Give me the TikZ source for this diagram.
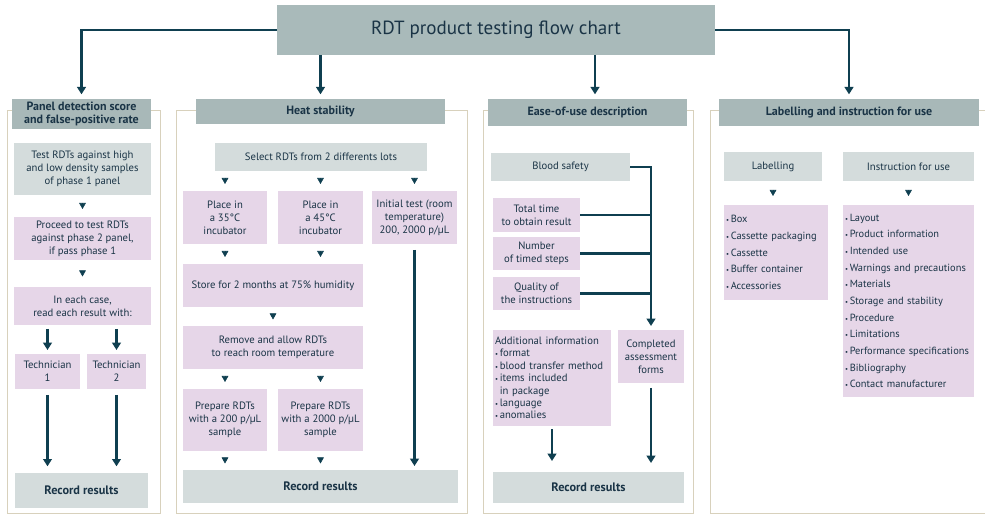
\documentclass[tikz,border=0pt]{standalone}
\usepackage{fontspec}
\setmainfont{PT Sans}
\usetikzlibrary{arrows.meta}
\definecolor{titlefill}{HTML}{A9BABA}
\definecolor{hfill}{HTML}{A8B8B8}
\definecolor{lgray}{HTML}{D4DCDC}
\definecolor{pinkf}{HTML}{E6D6E8}
\definecolor{arrowc}{HTML}{0F3F50}
\definecolor{framec}{HTML}{D8D1BC}
\definecolor{txt}{HTML}{1A3446}
\newcommand\mybox[7]{\node[#1, minimum width={(#4-#2)*0.75pt}, minimum height={(#5-#3)*0.75pt}] (#6) at ({(#2+#4)/2},{(#3+#5)/2}) {#7};}
\newcommand\mylist[7]{\node[#1, text width={(#4-#2-4)*0.75pt}, inner xsep=1.5pt, minimum height={(#5-#3)*0.75pt}] (#6) at ({(#2+#4)/2},{(#3+#5)/2}) {#7};}
\newcommand\bl{{\fontsize{5}{5}\selectfont\textbullet}\,}
\begin{document}
\begin{tikzpicture}[x=0.75pt,y=-0.75pt,
  base/.style={draw=none, inner sep=0pt, outer sep=0pt, text=txt, align=center, font=\fontsize{8}{9.75}\selectfont},
  tbox/.style={base, fill=titlefill, font=\fontsize{14.3}{17}\selectfont},
  hbox/.style={base, fill=hfill, font=\bfseries\fontsize{9}{9.75}\selectfont},
  gbox/.style={base, fill=lgray},
  pbox/.style={base, fill=pinkf},
  rbox/.style={base, fill=lgray, font=\bfseries\fontsize{9.2}{11}\selectfont},
  lbox/.style={base, fill=pinkf, align=left, font=\fontsize{7.8}{12.5}\selectfont},
  abox/.style={base, fill=pinkf, align=left, font=\fontsize{8}{9.3}\selectfont},
  frame/.style={draw=framec, line width=0.75pt, fill=white},
  conn/.style={draw=arrowc, line width=2.1pt},
  bigarr/.style={conn, -{Triangle[width=6.5pt,length=5.5pt]}},
  tiparr/.style={draw=arrowc, line width=0.4pt, -{Triangle[width=5pt,length=4.5pt]}, shorten <=#1, shorten >=#1}
]
\useasboundingbox (0,0) rectangle (985,516);
\fill[white] (0,0) rectangle (985,516);
% frames
\draw[frame] (7,111) rectangle (160,513);
\draw[frame] (176,111) rectangle (467,513);
\draw[frame] (483,111) rectangle (693,513);
\draw[frame] (710,111) rectangle (990,513);
% title
\mybox{tbox}{277}{5}{715}{55}{title}{RDT product testing flow chart}
% headers
\mybox{hbox}{12}{99}{151}{129}{ph}{Panel detection score\\and false-positive rate}
\mybox{hbox}{196}{99}{445}{124}{hh}{Heat stability}
\mybox{hbox}{488}{99}{687}{126}{eh}{Ease-of-use description}
\mybox{hbox}{719}{99}{979}{126}{lh}{Labelling and instruction for use}
\coordinate (ea) at (595,99);
% title connectors
\draw[bigarr, shorten >=3.5pt] (title.west) -| (ph.north);
\draw[bigarr, shorten >=3.5pt] (title.south -| hh.north) -- (hh.north);
\draw[bigarr, shorten >=3.5pt] (title.south -| ea) -- (ea);
\draw[bigarr, shorten >=3.5pt] (title.east) -| (lh.north);
% panel column
\mybox{gbox}{14}{143}{151}{195}{p1}{Test RDTs against high\\and low density samples\\of phase 1 panel}
\mybox{pbox}{14}{217}{151}{260}{p2}{Proceed to test RDTs\\against phase 2 panel,\\if pass phase 1}
\mybox{pbox}{14}{287}{151}{325}{p3}{In each case,\\read each result with:}
\mybox{pbox}{15}{354}{80}{389}{t1}{Technician\\1}
\mybox{pbox}{87}{354}{146}{389}{t2}{Technician\\2}
\mybox{rbox}{15}{473}{148}{508}{pr}{Record results}
\draw[tiparr=6pt] (p1) -- (p2);
\draw[tiparr=7.9pt] (p2) -- (p3);
\draw[bigarr, shorten <=3pt, shorten >=3pt] (p3.south -| t1) -- (t1.north);
\draw[bigarr, shorten <=3pt, shorten >=3pt] (p3.south -| t2) -- (t2.north);
\draw[bigarr, shorten <=4.5pt, shorten >=5pt] (t1.south) -- (pr.north -| t1);
\draw[bigarr, shorten <=4.5pt, shorten >=5pt] (t2.south) -- (pr.north -| t2);
% heat column
\mybox{gbox}{215}{143}{427}{171}{sel}{Select RDTs from 2 differents lots}
\mybox{pbox}{183}{191}{267}{244}{p35}{Place in\\a 35°C\\incubator}
\mybox{pbox}{278}{191}{363}{244}{p45}{Place in\\a 45°C\\incubator}
\mybox{pbox}{372}{191}{457}{244}{init}{Initial test (room\\temperature)\\200, 2000 p/µL}
\mybox{pbox}{183}{264}{363}{307}{store}{Store for 2 months at 75\% humidity}
\mybox{pbox}{183}{326}{363}{369}{rem}{Remove and allow RDTs\\to reach room temperature}
\mybox{pbox}{183}{389}{267}{451}{pra}{Prepare RDTs\\with a 200 p/µL\\sample}
\mybox{pbox}{278}{389}{363}{451}{prb}{Prepare RDTs\\with a 2000 p/µL\\sample}
\mybox{rbox}{183}{470}{458}{503}{hrec}{Record results}
\draw[tiparr=5.25pt] (sel.south -| p35) -- (p35.north);
\draw[tiparr=5.25pt] (sel.south -| p45) -- (p45.north);
\draw[tiparr=5.25pt] (sel.south -| init) -- (init.north);
\draw[tiparr=5.25pt] (p35.south) -- (store.north -| p35);
\draw[tiparr=5.25pt] (p45.south) -- (store.north -| p45);
\draw[tiparr=4.9pt] (store) -- (rem);
\draw[tiparr=5.25pt] (rem.south -| pra) -- (pra.north);
\draw[tiparr=5.25pt] (rem.south -| prb) -- (prb.north);
\draw[tiparr=4.9pt] (pra.south) -- (hrec.north -| pra);
\draw[tiparr=4.9pt] (prb.south) -- (hrec.north -| prb);
\draw[bigarr, shorten <=4.5pt, shorten >=3pt] (init.south) -- (hrec.north -| init);
% ease column
\mybox{gbox}{491}{153}{630}{181}{bs}{Blood safety}
\mybox{pbox}{493}{198}{580}{232}{tt}{Total time\\to obtain result}
\mybox{pbox}{493}{237}{580}{270}{nts}{Number\\of timed steps}
\mybox{pbox}{493}{277}{580}{310}{qi}{Quality of\\the instructions}
\mylist{abox}{493}{330}{611}{426}{add}{Additional information\\\bl format\\\bl blood transfer method\\\bl items included\\\hphantom{\bl}in package\\\bl language\\\bl anomalies}
\mybox{pbox}{618}{330}{684}{383}{caf}{Completed\\assessment\\forms}
\mybox{rbox}{493}{472}{684}{503}{erec}{Record results}
\draw[bigarr, shorten >=3pt] (bs.east) -| (caf.north);
\draw[conn] (tt.east) -- (tt.east -| caf.north);
\draw[conn] (nts.east) -- (nts.east -| caf.north);
\draw[conn] (qi.east) -- (qi.east -| caf.north);
\draw[bigarr, shorten <=3.75pt, shorten >=6.75pt] (caf.south) -- (erec.north -| caf);
\draw[bigarr, shorten <=2.25pt, shorten >=8.25pt] (add.south) -- (erec.north -| add);
% labelling column
\mybox{gbox}{724}{152}{822}{181}{lab}{Labelling}
\mybox{gbox}{843}{152}{974}{181}{ifu}{Instruction for use}
\mylist{lbox}{724}{205}{828}{300}{labl}{\bl Box\\\bl Cassette packaging\\\bl Cassette\\\bl Buffer container\\\bl Accessories}
\mylist{lbox}{843}{205}{974}{397}{iful}{\bl Layout\\\bl Product information\\\bl Intended use\\\bl Warnings and precautions\\\bl Materials\\\bl Storage and stability\\\bl Procedure\\\bl Limitations\\\bl Performance specifications\\\bl Bibliography\\\bl Contact manufacturer}
\draw[tiparr=6.75pt] (lab.south) -- (labl.north -| lab);
\draw[tiparr=6.75pt] (ifu.south) -- (iful.north -| ifu);
\end{tikzpicture}
\end{document}
